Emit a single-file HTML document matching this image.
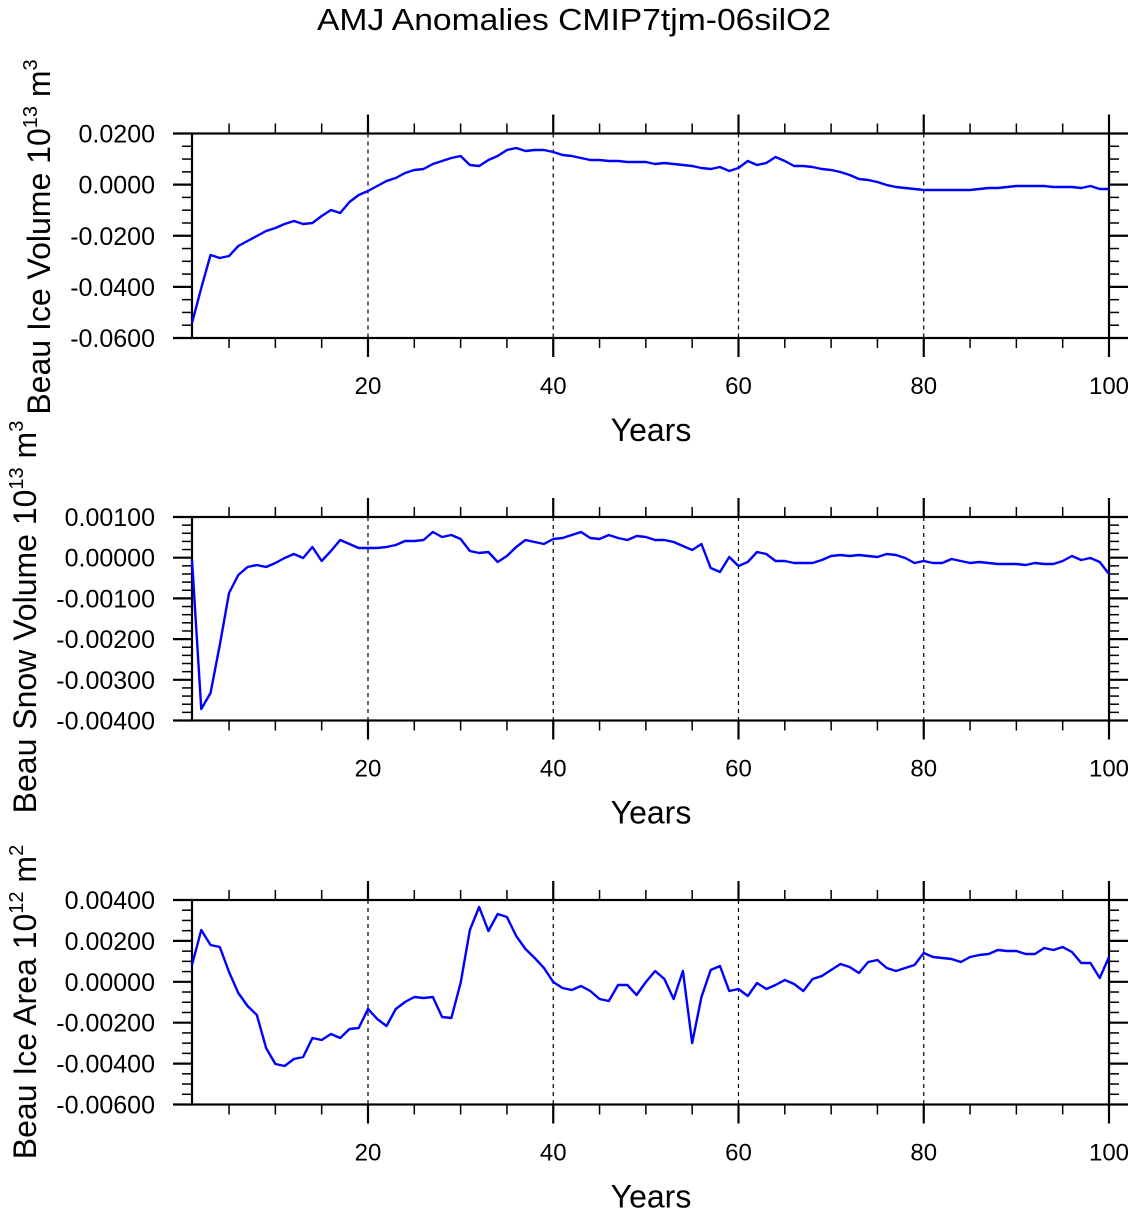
<!DOCTYPE html>
<html><head><meta charset="utf-8"><style>
html,body{margin:0;padding:0;background:#fff;}
svg{display:block;font-family:"Liberation Sans",Arial,sans-serif;}
</style></head><body>
<svg id="s" width="1135" height="1213" xmlns="http://www.w3.org/2000/svg">
<text x="574" y="30" font-size="31" text-anchor="middle" textLength="514" lengthAdjust="spacingAndGlyphs">AMJ Anomalies CMIP7tjm-06silO2</text>
</svg>
<script>
const S=document.getElementById('s');const NS='http://www.w3.org/2000/svg';
function el(t,a,txt){const e=document.createElementNS(NS,t);for(const k in a)e.setAttribute(k,a[k]);if(txt!==undefined)e.textContent=txt;S.appendChild(e);return e;}
const L=192,R=1109;const X=y=>L+(y-1)*(R-L)/99;
const p1=[323,288,255,258,256,246,241,236,231,228,224,221,224,223,216,210,213,202,195,191,186,181,178,173,170,169,164,161,158,156,165,166,160,156,150,148,151,150,150,152,155,156,158,160,160,161,161,162,162,162,164,163,164,165,166,168,169,167,171,168,161,165,163,157,161,166,166,167,169,170,172,175,179,180,182,185,187,188,189,190,190,190,190,190,190,189,188,188,187,186,186,186,186,187,187,187,188,186,189,189];
const p2=[560,709,693,645,593,575,567,565,567,563,558,554,558,547,561,551,540,544,548,548,548,547,545,541,541,540,532,537,535,539,551,553,552,562,556,547,540,542,544,539,538,535,532,538,539,535,538,540,536,537,540,540,542,546,550,544,568,572,557,566,562,552,554,561,561,563,563,563,560,556,555,556,555,556,557,554,555,558,563,561,563,563,559,561,563,562,563,564,564,564,565,563,564,564,561,556,560,558,562,574];
const p3=[965,930,945,947,972,993,1006,1015,1048,1064,1066,1059,1057,1038,1040,1034,1038,1029,1028,1009,1019,1026,1009,1002,997,998,997,1017,1018,983,930,907,931,914,917,936,949,958,968,982,988,990,986,991,999,1001,985,985,995,982,971,979,999,971,1043,997,970,966,991,989,996,983,989,985,980,984,991,979,976,970,964,967,973,962,960,968,971,968,965,953,957,958,959,962,957,955,954,950,951,951,954,954,948,950,947,952,963,963,978,957];
function panel(top,bot,labels,nminor,data,title,sup1,cy){
  const nmaj=labels.length-1;const h=bot-top;
  [20,40,60,80].forEach(y=>el('line',{x1:X(y),x2:X(y),y1:top,y2:bot,stroke:'#000','stroke-width':1.2,'stroke-dasharray':'4,4'}));
  for(let y=5;y<=100;y+=5){const x=X(y);const maj=y%20==0;const len=maj?19:10;
    el('line',{x1:x,x2:x,y1:top-len,y2:top,stroke:'#000','stroke-width':maj?2.2:1.5});
    el('line',{x1:x,x2:x,y1:bot,y2:bot+len,stroke:'#000','stroke-width':maj?2.2:1.5});
    if(maj)el('text',{x:x,y:bot+56,'font-size':24,'text-anchor':'middle'},String(y));}
  const nt=nmaj*(nminor+1);
  for(let i=0;i<=nt;i++){const y=top+h*i/nt;const maj=i%(nminor+1)==0;const len=maj?19:10;
    el('line',{x1:L-len,x2:L,y1:y,y2:y,stroke:'#000','stroke-width':maj?2.2:1.5});
    el('line',{x1:R,x2:R+len,y1:y,y2:y,stroke:'#000','stroke-width':maj?2.2:1.5});
    if(maj)el('text',{x:155,y:y+9,'font-size':25,'text-anchor':'end'},labels[i/(nminor+1)]);}
  el('rect',{x:L,y:top,width:R-L,height:h,fill:'none',stroke:'#000','stroke-width':2.2});
  el('polyline',{points:data.map((v,i)=>X(i+1)+','+v).join(' '),fill:'none',stroke:'#0000ff','stroke-width':2.4,'stroke-linejoin':'round'});
  el('text',{x:651,y:bot+103,'font-size':32,'text-anchor':'middle'},'Years');
  const t=el('text',{transform:`translate(${title[0]},${cy}) rotate(-90)`,'font-size':32,'text-anchor':'middle'});
  t.innerHTML=title[1]+'<tspan font-size="20" dy="-13">'+sup1+'</tspan><tspan dy="13"> m</tspan><tspan font-size="20" dy="-13">'+title[2]+'</tspan>';
}
panel(133.5,338,['0.0200','0.0000','-0.0200','-0.0400','-0.0600'],3,p1,[50,'Beau Ice Volume 10','3'],'13',237);
panel(517,720.5,['0.00100','0.00000','-0.00100','-0.00200','-0.00300','-0.00400'],4,p2,[36,'Beau Snow Volume 10','3'],'13',617);
panel(900,1104.5,['0.00400','0.00200','0.00000','-0.00200','-0.00400','-0.00600'],3,p3,[36,'Beau Ice Area 10','2'],'12',1002);
</script>
</body></html>
